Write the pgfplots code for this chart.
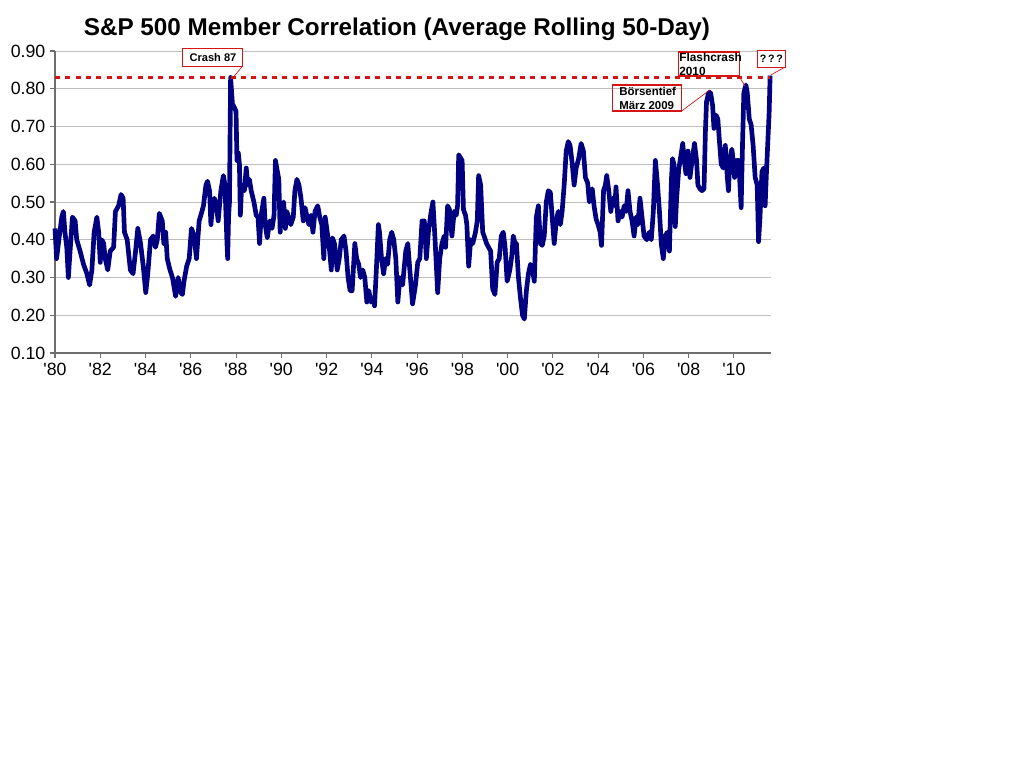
\documentclass[border=0pt]{standalone}
\usepackage{pgfplots}
\pgfplotsset{compat=1.18}
\usepackage{fontspec}
\setmainfont{Liberation Sans}
\definecolor{navyline}{RGB}{0,0,128}
\definecolor{annred}{RGB}{215,20,20}
\definecolor{gridgray}{RGB}{190,190,190}
\definecolor{axisgray}{RGB}{110,110,110}
\begin{document}
\begin{tikzpicture}
\begin{axis}[
  width=537pt, height=226.5pt, scale only axis,
  xmin=1980, xmax=2011.64, ymin=0.1, ymax=0.9,
  axis x line=bottom, axis y line=left,
  axis line style={-, axisgray, line width=0.8pt},
  xtick={1980,1982,...,2010},
  xticklabels={\textquotesingle80,\textquotesingle82,\textquotesingle84,\textquotesingle86,\textquotesingle88,\textquotesingle90,\textquotesingle92,\textquotesingle94,\textquotesingle96,\textquotesingle98,\textquotesingle00,\textquotesingle02,\textquotesingle04,\textquotesingle06,\textquotesingle08,\textquotesingle10},
  ytick={0.1,0.2,...,0.9},
  yticklabel style={/pgf/number format/.cd, fixed, fixed zerofill, precision=2, assume math mode=true},
  ticklabel style={font=\fontsize{13.3}{15}\selectfont},
  tick align=outside, major tick length=3.75pt,
  tick style={axisgray, line width=0.8pt},
  ymajorgrids, grid style={gridgray, line width=0.75pt},
  clip=false,
]
\coordinate (ll) at (rel axis cs:0,0);
\addplot[navyline, line width=3.5pt, line join=round] coordinates {
(1980.00,0.43)(1980.07,0.35)(1980.15,0.39)(1980.30,0.46)(1980.37,0.475)(1980.44,0.42)
(1980.52,0.38)(1980.59,0.30)(1980.70,0.40)(1980.77,0.46)(1980.89,0.45)(1980.96,0.40)
(1981.11,0.37)(1981.26,0.335)(1981.41,0.31)(1981.53,0.28)(1981.63,0.32)(1981.73,0.42)
(1981.85,0.46)(1981.93,0.42)(1982.00,0.34)(1982.07,0.40)(1982.15,0.39)(1982.22,0.35)
(1982.33,0.32)(1982.44,0.37)(1982.59,0.38)(1982.67,0.475)(1982.81,0.49)(1982.92,0.52)
(1983.01,0.51)(1983.07,0.42)(1983.19,0.40)(1983.33,0.32)(1983.45,0.31)(1983.56,0.37)
(1983.66,0.43)(1983.78,0.39)(1983.90,0.33)(1984.01,0.26)(1984.10,0.31)(1984.22,0.40)
(1984.34,0.41)(1984.44,0.38)(1984.52,0.40)(1984.61,0.47)(1984.74,0.45)(1984.81,0.39)
(1984.89,0.42)(1984.96,0.35)(1985.08,0.32)(1985.19,0.30)(1985.33,0.25)(1985.44,0.30)
(1985.56,0.26)(1985.63,0.255)(1985.70,0.29)(1985.82,0.33)(1985.93,0.35)(1986.03,0.43)
(1986.15,0.41)(1986.25,0.35)(1986.37,0.45)(1986.47,0.47)(1986.56,0.49)(1986.67,0.545)
(1986.74,0.555)(1986.83,0.53)(1986.89,0.44)(1986.96,0.49)(1987.04,0.51)(1987.13,0.49)
(1987.21,0.45)(1987.33,0.53)(1987.44,0.57)(1987.51,0.545)(1987.60,0.39)(1987.63,0.35)
(1987.67,0.46)(1987.71,0.50)(1987.76,0.83)(1987.84,0.76)(1987.93,0.75)(1988.00,0.74)
(1988.04,0.61)(1988.10,0.63)(1988.15,0.60)(1988.19,0.465)(1988.25,0.545)(1988.37,0.53)
(1988.45,0.59)(1988.52,0.545)(1988.59,0.56)(1988.67,0.53)(1988.79,0.50)(1988.89,0.465)
(1988.97,0.46)(1989.04,0.39)(1989.11,0.465)(1989.23,0.51)(1989.29,0.44)(1989.38,0.405)
(1989.49,0.45)(1989.59,0.43)(1989.68,0.465)(1989.74,0.61)(1989.83,0.58)(1989.89,0.56)
(1989.95,0.42)(1990.01,0.485)(1990.10,0.50)(1990.18,0.43)(1990.24,0.475)(1990.33,0.46)
(1990.42,0.44)(1990.53,0.46)(1990.60,0.53)(1990.69,0.56)(1990.78,0.545)(1990.87,0.51)
(1990.97,0.45)(1991.05,0.485)(1991.14,0.46)(1991.22,0.44)(1991.31,0.465)(1991.40,0.42)
(1991.49,0.475)(1991.61,0.49)(1991.70,0.46)(1991.79,0.44)(1991.88,0.35)(1991.94,0.46)
(1992.03,0.42)(1992.12,0.38)(1992.21,0.32)(1992.26,0.405)(1992.35,0.39)(1992.47,0.32)
(1992.56,0.35)(1992.65,0.40)(1992.77,0.41)(1992.86,0.37)(1992.95,0.30)(1993.04,0.265)
(1993.13,0.265)(1993.25,0.39)(1993.33,0.35)(1993.42,0.335)(1993.50,0.30)(1993.60,0.32)
(1993.69,0.30)(1993.78,0.235)(1993.87,0.265)(1993.96,0.235)(1994.05,0.245)(1994.12,0.225)
(1994.20,0.32)(1994.29,0.44)(1994.34,0.42)(1994.43,0.35)(1994.52,0.31)(1994.61,0.35)
(1994.70,0.335)(1994.79,0.40)(1994.88,0.42)(1994.97,0.40)(1995.06,0.35)(1995.15,0.235)
(1995.24,0.30)(1995.36,0.28)(1995.50,0.37)(1995.59,0.39)(1995.68,0.32)(1995.80,0.23)
(1995.93,0.28)(1996.03,0.34)(1996.12,0.35)(1996.22,0.45)(1996.32,0.45)(1996.41,0.35)
(1996.50,0.42)(1996.61,0.47)(1996.70,0.50)(1996.79,0.405)(1996.91,0.26)(1997.00,0.35)
(1997.10,0.39)(1997.20,0.41)(1997.26,0.38)(1997.35,0.49)(1997.43,0.48)(1997.54,0.41)
(1997.64,0.475)(1997.73,0.465)(1997.79,0.49)(1997.84,0.625)(1997.99,0.61)(1998.05,0.48)
(1998.14,0.465)(1998.20,0.44)(1998.28,0.33)(1998.37,0.40)(1998.46,0.39)(1998.58,0.42)
(1998.66,0.45)(1998.72,0.57)(1998.81,0.545)(1998.90,0.42)(1998.99,0.405)(1999.07,0.39)
(1999.16,0.38)(1999.25,0.37)(1999.34,0.27)(1999.44,0.255)(1999.54,0.34)(1999.63,0.35)
(1999.72,0.41)(1999.81,0.42)(1999.89,0.38)(1999.98,0.29)(2000.10,0.32)(2000.19,0.36)
(2000.25,0.41)(2000.33,0.39)(2000.39,0.39)(2000.48,0.30)(2000.57,0.245)(2000.66,0.20)
(2000.74,0.19)(2000.83,0.265)(2000.92,0.31)(2001.01,0.335)(2001.10,0.32)(2001.18,0.29)
(2001.27,0.46)(2001.36,0.49)(2001.45,0.39)(2001.53,0.385)(2001.62,0.41)(2001.71,0.50)
(2001.80,0.53)(2001.89,0.525)(2001.97,0.46)(2002.06,0.39)(2002.15,0.45)(2002.24,0.475)
(2002.33,0.44)(2002.41,0.475)(2002.50,0.545)(2002.59,0.635)(2002.68,0.66)(2002.76,0.65)
(2002.85,0.605)(2002.94,0.545)(2003.03,0.59)(2003.14,0.615)(2003.25,0.655)(2003.35,0.635)
(2003.44,0.565)(2003.54,0.55)(2003.61,0.50)(2003.74,0.535)(2003.82,0.49)(2003.91,0.455)
(2004.00,0.44)(2004.09,0.42)(2004.15,0.385)(2004.24,0.53)(2004.32,0.545)(2004.38,0.57)
(2004.47,0.53)(2004.56,0.475)(2004.65,0.51)(2004.74,0.49)(2004.79,0.54)(2004.88,0.45)
(2004.97,0.475)(2005.06,0.46)(2005.15,0.49)(2005.24,0.475)(2005.32,0.53)(2005.41,0.475)
(2005.50,0.45)(2005.59,0.41)(2005.68,0.46)(2005.76,0.44)(2005.85,0.51)(2005.94,0.46)
(2006.03,0.41)(2006.15,0.40)(2006.26,0.42)(2006.35,0.40)(2006.44,0.475)(2006.53,0.61)
(2006.62,0.55)(2006.71,0.475)(2006.79,0.39)(2006.88,0.35)(2006.97,0.41)(2007.06,0.42)
(2007.15,0.37)(2007.24,0.56)(2007.29,0.615)(2007.35,0.60)(2007.41,0.435)(2007.47,0.51)
(2007.56,0.585)(2007.65,0.62)(2007.74,0.655)(2007.79,0.62)(2007.88,0.575)(2007.97,0.635)
(2008.06,0.565)(2008.15,0.61)(2008.26,0.655)(2008.35,0.61)(2008.41,0.545)(2008.50,0.535)
(2008.59,0.53)(2008.68,0.535)(2008.74,0.685)(2008.79,0.765)(2008.88,0.79)(2008.97,0.79)
(2009.06,0.755)(2009.12,0.695)(2009.21,0.73)(2009.29,0.72)(2009.35,0.67)(2009.44,0.60)
(2009.53,0.59)(2009.62,0.65)(2009.71,0.565)(2009.76,0.53)(2009.82,0.61)(2009.91,0.64)
(2009.97,0.61)(2010.03,0.565)(2010.12,0.61)(2010.21,0.61)(2010.26,0.555)(2010.32,0.485)
(2010.38,0.65)(2010.44,0.79)(2010.53,0.81)(2010.59,0.79)(2010.68,0.72)(2010.76,0.705)
(2010.85,0.65)(2010.94,0.565)(2011.03,0.545)(2011.09,0.395)(2011.15,0.455)(2011.24,0.58)
(2011.32,0.59)(2011.38,0.49)(2011.44,0.58)(2011.50,0.66)(2011.56,0.74)(2011.60,0.835)
};
\addplot[annred, line width=2pt, dash pattern=on 3.75pt off 4pt] coordinates {(1980,0.83)(2011.6,0.83)};
% annotations
\draw[annred, line width=0.5pt] (axis cs:1988.27,0.859) -- (axis cs:1987.85,0.828);
\node[draw=annred, line width=0.8pt, fill=white, minimum width=45pt, minimum height=13.5pt, inner sep=0pt,
  font=\bfseries\fontsize{8.3}{9}\selectfont] at (axis cs:1986.98,0.883) {Crash 87};
\draw[annred, line width=0.5pt] (axis cs:2010.24,0.832) -- (axis cs:2010.49,0.807);
\node[draw=annred, line width=0.8pt, minimum width=45.75pt, minimum height=18pt, inner sep=0pt] at (axis cs:2008.92,0.8656) {};
\node[anchor=north west, inner sep=0pt, align=left, font=\bfseries\fontsize{8.9}{10.5}\selectfont]
  at (axis cs:2008.90,0.8656) [xshift=-22.5pt, yshift=8.5pt] {Flashcrash\\2010};
\draw[annred, line width=0.5pt] (axis cs:2007.69,0.741) -- (axis cs:2008.94,0.797);
\node[draw=annred, line width=0.8pt, minimum width=52pt, minimum height=19.5pt, inner sep=0pt] at (axis cs:2006.16,0.7755) {};
\node[anchor=north west, inner sep=0pt, align=left, font=\bfseries\fontsize{8.6}{11}\selectfont]
  at (axis cs:2006.16,0.7755) [xshift=-21pt, yshift=8.6pt] {Börsentief\\März 2009};
\draw[annred, line width=0.5pt] (axis cs:2012.27,0.858) -- (axis cs:2011.62,0.836);
\node[draw=annred, line width=0.8pt, fill=white, minimum width=20.7pt, minimum height=13pt, inner sep=0pt,
  font=\bfseries\fontsize{8}{9}\selectfont] at (axis cs:2011.66,0.8796) {?\,?\,?};
\node[font=\bfseries\fontsize{18.2}{21}\selectfont] at (axis cs:1995.11,0.958) {S\&P 500 Member Correlation (Average Rolling 50-Day)};
\end{axis}
\pgfresetboundingbox
\path[use as bounding box] (ll) ++(-41.25pt,-310.5pt) rectangle ++(768pt,575.25pt);
\end{tikzpicture}
\end{document}
